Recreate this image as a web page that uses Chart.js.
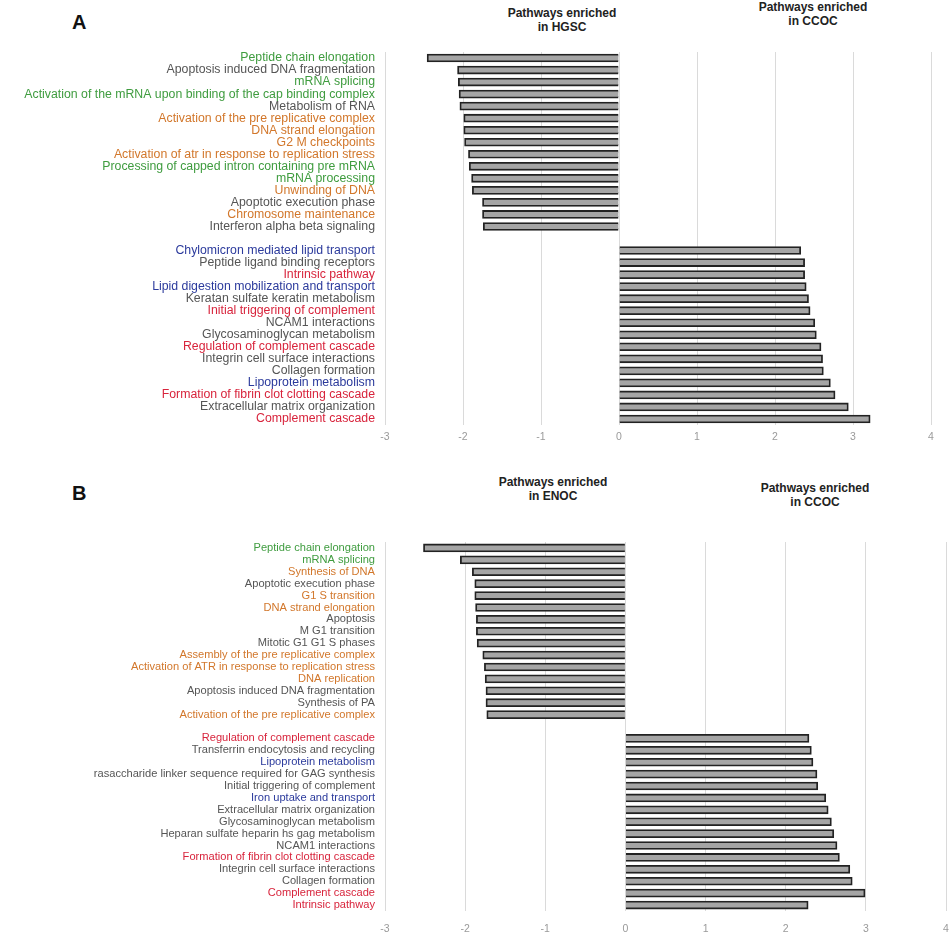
<!DOCTYPE html>
<html><head><meta charset="utf-8">
<script src="https://cdn.jsdelivr.net/npm/chart.js@4"></script>
<style>
html,body{margin:0;padding:0;background:#fff;width:951px;height:939px;overflow:hidden;font-family:"Liberation Sans",Arial,sans-serif}
.c{position:absolute;left:0}
.t{position:absolute;font-weight:bold;font-size:12px;color:#222;text-align:center;line-height:14px;white-space:nowrap;transform:translateX(-50%)}
.p{position:absolute;font-weight:bold;font-size:20px;line-height:20px;color:#111}
</style></head><body>
<div class="p" style="left:72px;top:12px">A</div>
<div class="p" style="left:72px;top:483px">B</div>
<div class="t" style="left:562px;top:6px">Pathways enriched<br>in HGSC</div>
<div class="t" style="left:813px;top:0px">Pathways enriched<br>in CCOC</div>
<div class="t" style="left:553px;top:475px">Pathways enriched<br>in ENOC</div>
<div class="t" style="left:815px;top:481px">Pathways enriched<br>in CCOC</div>
<div class="c" style="top:0;width:951px;height:460px"><canvas id="ca"></canvas></div>
<div class="c" style="top:470px;width:971px;height:469px"><canvas id="cb"></canvas></div>
<script>
// ---- Panel A data (HGSC vs CCOC) ----
const categoriesA = [
  "Peptide chain elongation","Apoptosis induced DNA fragmentation","mRNA splicing",
  "Activation of the mRNA upon binding of the cap binding complex","Metabolism of RNA",
  "Activation of the pre replicative complex","DNA strand elongation","G2 M checkpoints",
  "Activation of atr in response to replication stress","Processing of capped intron containing pre mRNA",
  "mRNA processing","Unwinding of DNA","Apoptotic execution phase","Chromosome maintenance",
  "Interferon alpha beta signaling","",
  "Chylomicron mediated lipid transport","Peptide ligand binding receptors","Intrinsic pathway",
  "Lipid digestion mobilization and transport","Keratan sulfate keratin metabolism",
  "Initial triggering of complement","NCAM1 interactions","Glycosaminoglycan metabolism",
  "Regulation of complement cascade","Integrin cell surface interactions","Collagen formation",
  "Lipoprotein metabolism","Formation of fibrin clot clotting cascade",
  "Extracellular matrix organization","Complement cascade"
];
const valuesA = [
  -2.46,-2.07,-2.06,-2.05,-2.04,-1.99,-1.99,-1.98,-1.93,-1.92,-1.89,-1.88,-1.75,-1.75,-1.74,
  null,
  2.33,2.38,2.38,2.40,2.43,2.45,2.51,2.53,2.59,2.61,2.62,2.71,2.77,2.94,3.22
];
const groupsA = [
  "green","gray","green","green","gray","orange","orange","orange","orange","green",
  "green","orange","gray","orange","gray","gray",
  "blue","gray","red","blue","gray","red","gray","gray","red","gray","gray","blue","red","gray","red"
];
// ---- Panel B data (ENOC vs CCOC) ----
const categoriesB = [
  "Peptide chain elongation","mRNA splicing","Synthesis of DNA","Apoptotic execution phase",
  "G1 S transition","DNA strand elongation","Apoptosis","M G1 transition","Mitotic G1 G1 S phases",
  "Assembly of the pre replicative complex","Activation of ATR in response to replication stress",
  "DNA replication","Apoptosis induced DNA fragmentation","Synthesis of PA",
  "Activation of the pre replicative complex","",
  "Regulation of complement cascade","Transferrin endocytosis and recycling","Lipoprotein metabolism",
  "rasaccharide linker sequence required for GAG synthesis","Initial triggering of complement",
  "Iron uptake and transport","Extracellular matrix organization","Glycosaminoglycan metabolism",
  "Heparan sulfate heparin hs gag metabolism","NCAM1 interactions",
  "Formation of fibrin clot clotting cascade","Integrin cell surface interactions",
  "Collagen formation","Complement cascade","Intrinsic pathway"
];
const valuesB = [
  -2.52,-2.06,-1.91,-1.88,-1.88,-1.87,-1.86,-1.86,-1.85,-1.78,-1.76,-1.75,-1.74,-1.74,-1.73,
  null,
  2.29,2.32,2.34,2.39,2.40,2.50,2.53,2.57,2.60,2.64,2.67,2.80,2.83,2.99,2.28
];
const groupsB = [
  "green","green","orange","gray","orange","orange","gray","gray","gray","orange","orange",
  "orange","gray","gray","orange","gray",
  "red","gray","blue","gray","gray","blue","gray","gray","gray","gray","red","gray","gray","red","red"
];
const xTicks = [-3,-2,-1,0,1,2,3,4];

const palette = {green:"#3f9c3f", gray:"#555555", orange:"#d2772b", blue:"#2b3a9c", red:"#d8243c"};
const FAM = '"Liberation Sans", Arial, sans-serif';

function makeChart(id, labels, values, groups, cfg) {
  return new Chart(document.getElementById(id), {
    type: 'bar',
    data: { labels: labels, datasets: [{
      data: values, backgroundColor: '#a5a5a5', borderColor: '#222222',
      borderWidth: 1.8, barThickness: 8
    }]},
    options: {
      indexAxis: 'y', responsive: true, maintainAspectRatio: false, animation: false,
      layout: { padding: { top: cfg.top, right: cfg.right, left: 0, bottom: 0 } },
      plugins: { legend: { display: false }, tooltip: { enabled: false } },
      scales: {
        x: {
          min: xTicks[0], max: xTicks[xTicks.length-1],
          afterBuildTicks: s => { s.ticks = xTicks.map(v => ({ value: v })); },
          ticks: { color: '#9a9a9a', font: { size: 10.5, family: FAM }, padding: cfg.xpad },
          grid: { color: '#dadada', lineWidth: 1, drawTicks: false },
          border: { display: false },
          afterFit: s => { s.height = cfg.xh; }
        },
        y: {
          ticks: { color: ctx => palette[groups[ctx.index]], font: { size: cfg.fs, family: FAM },
                   padding: 10, autoSkip: false },
          grid: { display: false, drawTicks: false },
          border: { display: false },
          afterFit: s => { s.width = 385; }
        }
      }
    }
  });
}

makeChart('ca', categoriesA, valuesA, groupsA, { top: 52, right: 20, xh: 35, xpad: 6, fs: 12.3 });
makeChart('cb', categoriesB, valuesB, groupsB, { top: 72, right: 25, xh: 28, xpad: 12, fs: 11.1 });
</script>
</body></html>
